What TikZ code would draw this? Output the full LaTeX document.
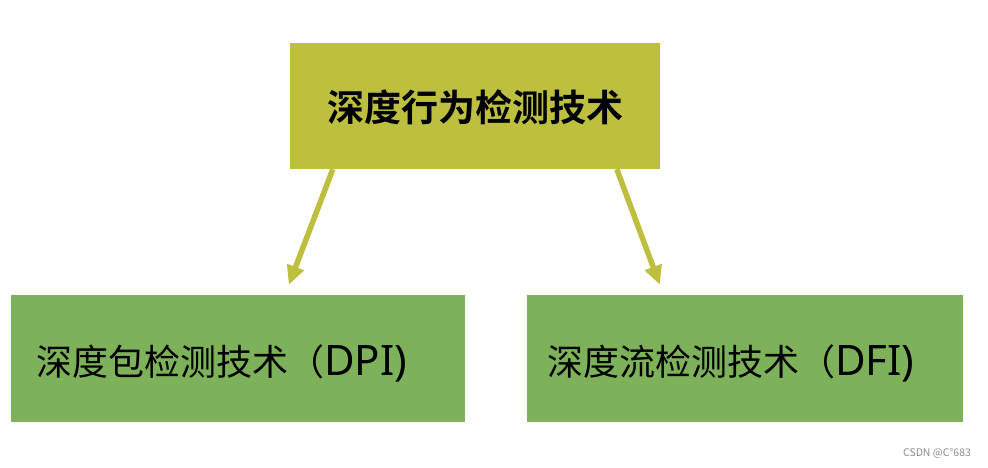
\documentclass[tikz,border=0pt]{standalone}
\usepackage{fontspec}
\setmainfont{Noto Sans CJK SC}
\newfontfamily\cjkbold{Noto Sans CJK SC Bold}
\newfontfamily\latinf{Noto Sans}
\usetikzlibrary{arrows.meta}
\definecolor{olive}{RGB}{189,191,63}
\definecolor{leaf}{RGB}{126,178,90}
\newcommand{\latpart}[1]{{\latinf\fontsize{42pt}{44pt}\selectfont #1}}
\begin{document}
\begin{tikzpicture}[x=1pt,y=1pt,
  topbox/.style={fill=olive,draw=none,minimum width=370pt,minimum height=126pt,inner sep=0pt},
  subbox/.style={fill=leaf,draw=none,minimum height=127pt,inner sep=0pt},
  lbl/.style={inner sep=0pt,anchor=base west,font=\fontsize{36pt}{40pt}\selectfont},
  arr/.style={draw=olive,line width=5.5pt,-{Triangle[length=19pt,width=17pt]}}]
\useasboundingbox (0,0) rectangle (988,468);
\fill[white] (0,0) rectangle (988,468);
\node[topbox] (T) at (475,362) {};
\node[inner sep=0pt,font=\cjkbold\fontsize{37pt}{40pt}\selectfont] (Tt) at (475,361) {深度行为检测技术};
\node[subbox,minimum width=454pt] (L) at (238,109.5) {};
\node[subbox,minimum width=436pt] (R) at (745,109.5) {};
\node[lbl] (Lt) at (36,92) {深度包检测技术（\latpart{DPI)}};
\node[lbl] (Rt) at (547,92) {深度流检测技术（\latpart{DFI)}};
\draw[arr] ([xshift=43pt]T.south west) -- ([xshift=278pt,yshift=10pt]L.north west);
\draw[arr] ([xshift=327pt]T.south west) -- ([xshift=133pt,yshift=10pt]R.north west);
\node[text=black!45,inner sep=0pt,font=\fontsize{10.5pt}{12pt}\selectfont] (W) at (937,15) {CSDN @C°683};
\end{tikzpicture}
\end{document}
